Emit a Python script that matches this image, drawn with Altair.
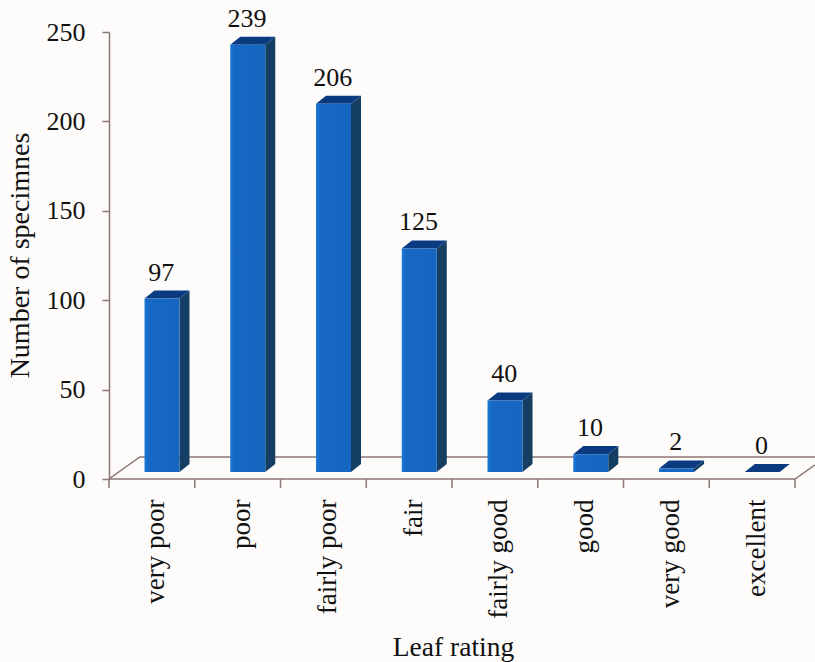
import json
import altair as alt
import pandas as pd

# Leaf rating survey: number of specimens per rating class
categories = ["very poor", "poor", "fairly poor", "fair", "fairly good", "good", "very good", "excellent"]
counts = [97, 239, 206, 125, 40, 10, 2, 0]

# Pseudo-3D geometry, in data units (x: one unit per category, y: specimens)
LEFT, RIGHT = 0.414, 0.822
DX, DY = 0.117, 4.5
BASE = 3.9
X_MAX = 8.233

FONT = "Liberation Serif"
AXIS_COLOR = "#8d7676"
TEXT = "#111111"

front, side, top, labels = [], [], [], []
for i, (cat, v) in enumerate(zip(categories, counts)):
    l, r = i + LEFT, i + RIGHT
    h = v + BASE
    front.append({"x": l, "x2": r, "y": BASE, "y2": h})
    side.append({"bar": i, "x": r, "y": BASE, "y2": h})
    side.append({"bar": i, "x": r + DX, "y": BASE + DY, "y2": h + DY})
    # top face as a vertical area: lower edge y, upper edge y2
    top.append({"bar": i, "x": l, "y": h, "y2": h})
    top.append({"bar": i, "x": l + DX, "y": h, "y2": h + DY})
    top.append({"bar": i, "x": r, "y": h, "y2": h + DY})
    top.append({"bar": i, "x": r + DX, "y": h + DY, "y2": h + DY})
    labels.append({"x": (l + r) / 2 - 0.01, "y": h + DY, "t": str(v)})

floor = pd.DataFrame({
    "x": [X_MAX, 8, 0, 0.36, X_MAX],
    "y": [7.9, 0, 0, 12.3, 12.3],
    "o": [0, 1, 2, 3, 4],
})
ticks = pd.DataFrame({"x": list(range(9)), "y": [0] * 9, "y2": [-5] * 9})

label_expr = "%s[floor(datum.value)]" % json.dumps(categories)

x_enc = alt.X("x:Q", scale=alt.Scale(domain=[0, X_MAX], nice=False, zero=False), title="Leaf rating", axis=alt.Axis(
    values=[i + 0.5 for i in range(8)], labelExpr=label_expr, labelAngle=270,
    labelAlign="right", labelBaseline="middle", labelPadding=20, labelOffset=4,
    labelFont=FONT, labelFontSize=27, labelColor=TEXT, labelOverlap=False, labelFlush=False,
    domain=False, ticks=False, grid=False,
    titleFont=FONT, titleFontSize=27.5, titleFontWeight="normal", titleColor=TEXT,
    titleX=344, titleY=168, titleAlign="center", titleBaseline="middle",
))
y_enc = alt.Y("y:Q", scale=alt.Scale(domain=[0, 250], nice=False, zero=False), title="Number of specimnes", axis=alt.Axis(
    values=[0, 50, 100, 150, 200, 250], tickSize=7, tickColor=AXIS_COLOR, tickWidth=1.5,
    domainColor=AXIS_COLOR, domainWidth=1.5, labelPadding=17, grid=False,
    labelFont=FONT, labelFontSize=26, labelColor=TEXT,
    titleFont=FONT, titleFontSize=28, titleFontWeight="normal", titleColor=TEXT,
    titleX=-89, titleY=223, titleAngle=270, titleAlign="center", titleBaseline="middle",
))

floor_layer = alt.Chart(floor).mark_line(color=AXIS_COLOR, strokeWidth=1.5).encode(
    x=x_enc, y=y_enc, order="o:Q",
)

tick_layer = alt.Chart(ticks).mark_rule(color=AXIS_COLOR, strokeWidth=1.5).encode(
    x=x_enc, y=y_enc, y2="y2:Q",
)

side_layer = alt.Chart(pd.DataFrame(side)).mark_area(color="#143f62", orient="vertical").encode(
    x=x_enc, y=y_enc, y2="y2:Q", detail="bar:N",
)

top_layer = alt.Chart(pd.DataFrame(top)).mark_area(color="#0a3b80", orient="vertical").encode(
    x=x_enc, y=y_enc, y2="y2:Q", detail="bar:N",
)

# Front faces carry a faint highlight along their left edge
front_fill = alt.Gradient(
    gradient="linear", x1=0, x2=1, y1=0, y2=0,
    stops=[
        alt.GradientStop(color="#1a78d8", offset=0),
        alt.GradientStop(color="#1668c4", offset=0.12),
        alt.GradientStop(color="#1666c0", offset=1),
    ],
)
front_layer = alt.Chart(pd.DataFrame(front)).mark_bar(color=front_fill).encode(
    x=x_enc, x2="x2:Q", y=y_enc, y2="y2:Q",
)

label_layer = alt.Chart(pd.DataFrame(labels)).mark_text(
    font=FONT, fontSize=26, color=TEXT, baseline="alphabetic", align="center", dy=-10,
).encode(
    x=x_enc, y=y_enc, text="t:N",
)

chart = alt.layer(
    floor_layer, tick_layer, side_layer, top_layer, front_layer, label_layer,
).properties(
    width=815,
    height=662,
    background="#fdfcfa",
    padding={"left": 109, "top": 32, "right": 0, "bottom": 183},
    autosize=alt.AutoSizeParams(type="none", contains="padding"),
).configure_view(stroke=None)

chart.save("out.html", embed_options={"renderer": "svg", "actions": False})
